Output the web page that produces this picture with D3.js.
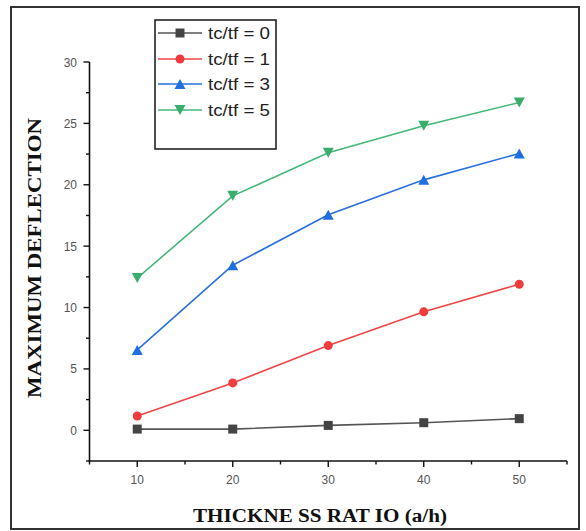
<!DOCTYPE html>
<html>
<head>
<meta charset="utf-8">
<script src="https://cdn.jsdelivr.net/npm/d3@7"></script>
<style>
  html, body { margin: 0; padding: 0; background: #fff; }
  svg { display: block; }
</style>
</head>
<body>
<svg id="chart" width="586" height="531"></svg>
<script>
// ---- data ----
const ratios = [10, 20, 30, 40, 50];
const seriesNames = ["tc/tf = 0", "tc/tf = 1", "tc/tf = 3", "tc/tf = 5"];
const tc0 = [0.1, 0.1, 0.4, 0.62, 0.95];
const tc1 = [1.17, 3.86, 6.9, 9.65, 11.9];
const tc3 = [6.55, 13.45, 17.55, 20.4, 22.55];
const tc5 = [12.4, 19.1, 22.6, 24.8, 26.7];
const xMajorTicks = [10, 20, 30, 40, 50];
const xMinorTicks = [5, 15, 25, 35, 45, 55];
const yMajorTicks = [0, 5, 10, 15, 20, 25, 30];
const yMinorTicks = [-2.5, 2.5, 7.5, 12.5, 17.5, 22.5, 27.5];
const xTitle = "THICKNE SS RAT IO (a/h)";
const yTitle = "MAXIMUM  DEFLECTION";

// ---- styles ----
const styles = [
  { line: "#555555", fill: "#444444", shape: "square" },
  { line: "#f04545", fill: "#f03c3c", shape: "circle" },
  { line: "#2a6fe0", fill: "#1f6fe0", shape: "up" },
  { line: "#44b878", fill: "#38ad6c", shape: "down" }
];
const seriesValues = [tc0, tc1, tc3, tc5];

const svg = d3.select("#chart");

// outer frame
svg.append("rect")
  .attr("x", 11).attr("y", 7).attr("width", 568).attr("height", 522)
  .attr("fill", "none").attr("stroke", "#333").attr("stroke-width", 2);

const x = d3.scaleLinear().domain([5, 55]).range([89.5, 567]);
const y = d3.scaleLinear().domain([-2.5, 30]).range([461, 62]);

function markerPath(shape) {
  if (shape === "square") return "M-4.5,-4.5H4.5V4.5H-4.5Z";
  if (shape === "circle") return d3.symbol(d3.symbolCircle, 64)();
  if (shape === "up") return "M0,-5L5.5,5L-5.5,5Z";
  return "M0,5L5.5,-5L-5.5,-5Z";
}

// axes
const axisColor = "#111";
const xAxisY = y(-2.5);
const yAxisX = x(5);
svg.append("line").attr("x1", yAxisX).attr("x2", yAxisX)
  .attr("y1", y(30)).attr("y2", xAxisY + 0.75)
  .attr("stroke", axisColor).attr("stroke-width", 1.6);
svg.append("line").attr("x1", yAxisX - 0.75).attr("x2", x(55))
  .attr("y1", xAxisY).attr("y2", xAxisY)
  .attr("stroke", axisColor).attr("stroke-width", 1.6);

// x ticks
svg.append("g").selectAll("line.xmaj").data(xMajorTicks).join("line")
  .attr("x1", d => x(d)).attr("x2", d => x(d))
  .attr("y1", xAxisY).attr("y2", xAxisY + 6)
  .attr("stroke", axisColor).attr("stroke-width", 1.4);
svg.append("g").selectAll("line.xmin").data(xMinorTicks).join("line")
  .attr("x1", d => x(d)).attr("x2", d => x(d))
  .attr("y1", xAxisY).attr("y2", xAxisY + 3.5)
  .attr("stroke", axisColor).attr("stroke-width", 1.4);
svg.append("g").selectAll("text").data(xMajorTicks).join("text")
  .attr("x", d => x(d)).attr("y", xAxisY + 23)
  .attr("text-anchor", "middle")
  .attr("font-family", "Liberation Sans, Arial, sans-serif")
  .attr("font-size", 12).attr("fill", "#555")
  .text(d => d);

// y ticks
svg.append("g").selectAll("line").data(yMajorTicks).join("line")
  .attr("x1", yAxisX - 6).attr("x2", yAxisX)
  .attr("y1", d => y(d)).attr("y2", d => y(d))
  .attr("stroke", axisColor).attr("stroke-width", 1.4);
svg.append("g").selectAll("line").data(yMinorTicks).join("line")
  .attr("x1", yAxisX - 3.5).attr("x2", yAxisX)
  .attr("y1", d => y(d)).attr("y2", d => y(d))
  .attr("stroke", axisColor).attr("stroke-width", 1.4);
svg.append("g").selectAll("text").data(yMajorTicks).join("text")
  .attr("x", 77).attr("y", d => y(d) + 4.5)
  .attr("text-anchor", "end")
  .attr("font-family", "Liberation Sans, Arial, sans-serif")
  .attr("font-size", 12).attr("fill", "#555")
  .text(d => d);

// axis titles
svg.append("text")
  .attr("x", 320).attr("y", 522)
  .attr("text-anchor", "middle")
  .attr("font-family", "Liberation Serif, Times New Roman, serif")
  .attr("font-weight", "bold").attr("font-size", 18).attr("fill", "#111")
  .attr("textLength", 254).attr("lengthAdjust", "spacingAndGlyphs")
  .text(xTitle);
svg.append("text")
  .attr("transform", "translate(41,258) rotate(-90)")
  .attr("text-anchor", "middle")
  .attr("font-family", "Liberation Serif, Times New Roman, serif")
  .attr("font-weight", "bold").attr("font-size", 18).attr("fill", "#111")
  .attr("textLength", 280).attr("lengthAdjust", "spacingAndGlyphs")
  .text(yTitle);

// series
const line = d3.line().x((d, i) => x(ratios[i])).y(d => y(d));
seriesValues.forEach((vals, k) => {
  const st = styles[k];
  svg.append("path").datum(vals)
    .attr("d", line)
    .attr("fill", "none").attr("stroke", st.line).attr("stroke-width", 1.6);
  svg.append("g").selectAll("path").data(vals).join("path")
    .attr("transform", (d, i) => `translate(${x(ratios[i])},${y(d)})`)
    .attr("d", markerPath(st.shape))
    .attr("fill", st.fill);
});

// legend
const lg = svg.append("g");
lg.append("rect").attr("x", 155).attr("y", 20).attr("width", 121).attr("height", 129)
  .attr("fill", "#fff").attr("stroke", "#222").attr("stroke-width", 1.6);
const rowY = [33, 59, 84, 110];
seriesNames.forEach((name, k) => {
  const st = styles[k];
  lg.append("line").attr("x1", 158).attr("x2", 202)
    .attr("y1", rowY[k]).attr("y2", rowY[k])
    .attr("stroke", st.line).attr("stroke-width", 1.6);
  lg.append("path").attr("transform", `translate(180,${rowY[k]})`)
    .attr("d", markerPath(st.shape)).attr("fill", st.fill);
  lg.append("text").attr("x", 208).attr("y", rowY[k] + 6)
    .attr("font-family", "Liberation Sans, Arial, sans-serif")
    .attr("font-size", 16).attr("fill", "#222")
    .attr("textLength", 62).attr("lengthAdjust", "spacingAndGlyphs")
    .text(name);
});
</script>
</body>
</html>
